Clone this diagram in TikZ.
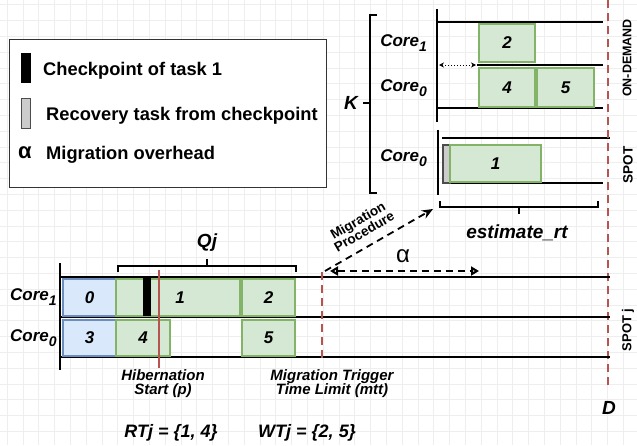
\documentclass[tikz,border=0pt]{standalone}
\usepackage{fontspec}
\setmainfont{Liberation Sans}
\usetikzlibrary{arrows.meta}
\definecolor{bluefill}{HTML}{DAE8FC}
\definecolor{blueline}{HTML}{6C8EBF}
\definecolor{greenfill}{HTML}{D5E8D4}
\definecolor{greenline}{HTML}{82B366}
\definecolor{redline}{HTML}{B85450}
\definecolor{gridc}{HTML}{EEEEEE}
\newcommand{\fs}[1]{\fontsize{#1}{#1}\selectfont}
\newcommand{\coresub}[1]{Core\raisebox{-0.32em}{\fs{14}#1}}
\begin{document}
\begin{tikzpicture}[x=1pt,y=-1pt,
  axisline/.style={line width=2pt,black},
  box/.style={rectangle,inner sep=0pt,outer sep=0pt,anchor=north west,line width=1.6pt,font=\fs{17}\bfseries\itshape},
  greentask/.style={box,draw=greenline,fill=greenfill},
  bluetask/.style={box,draw=blueline,fill=bluefill},
  corelbl/.style={font=\fs{17}\bfseries\itshape,inner sep=0pt},
  redsolid/.style={redline,line width=1.5pt},
  reddash/.style={redline,line width=1.8pt,dash pattern=on 8pt off 5pt},
  brk/.style={line width=1.3pt,black},
  sidelbl/.style={font=\fs{12.5}\bfseries,rotate=90,inner sep=0pt},
  annot/.style={font=\fs{15}\bfseries\itshape,align=center,inner sep=0pt}]
\useasboundingbox (0,0) rectangle (637,445);
% background grid
\foreach \i in {0,...,40} {\draw[gridc,line width=0.4pt] (7+15.8*\i,0) -- (7+15.8*\i,445);}
\foreach \i in {0,...,28} {\draw[gridc,line width=0.4pt] (0,4.6+15.8*\i) -- (637,4.6+15.8*\i);}

% legend
\node[draw=black!80,line width=1pt,fill=white,minimum width=317pt,minimum height=148pt,anchor=north west,inner sep=0pt] (legend) at (9,39) {};
\node[fill=black,minimum width=10pt,minimum height=30pt,inner sep=0pt,anchor=north west] (lgck) at (21,53) {};
\node[draw=black!70,fill=black!20,line width=0.8pt,minimum width=9pt,minimum height=30pt,inner sep=0pt,anchor=north west] (lgrec) at (21,98) {};
\node[font=\fs{18.3}\bfseries,anchor=west,inner sep=0pt] (lgt1) at (43,71) {Checkpoint of task 1};
\node[font=\fs{18.3}\bfseries,anchor=west,inner sep=0pt] (lgt2) at (46,116) {Recovery task from checkpoint};
\node[font=\fs{22}\bfseries,inner sep=0pt] (lgal) at (25,153) {α};
\node[font=\fs{18.3}\bfseries,anchor=west,inner sep=0pt] (lgt3) at (46,155) {Migration overhead};

% ---------- top right: on-demand ----------
\draw[axisline] (437,9) -- (437,122);
\draw[axisline] (437,22) -- (603,22);
\draw[axisline] (477,65) -- (603,65);
\draw[axisline] (437,108) -- (603,108);
\node[greentask,minimum width=56pt,minimum height=38pt] (o2) at (479,24) {2};
\node[greentask,minimum width=56pt,minimum height=39pt] (o4) at (479,68) {4};
\node[greentask,minimum width=57pt,minimum height=39pt] (o5) at (537,68) {5};
\coordinate (dl) at (439,65);
\coordinate (dr) at (476,65);
\draw[line width=1pt,dotted,{Stealth[length=5pt,width=5pt]}-{Stealth[length=5pt,width=5pt]}] (dl) -- (dr);

% spot (top right)
\draw[axisline] (438,130) -- (438,195);
\draw[axisline] (442,138) -- (610,138);
\draw[axisline] (442,183) -- (603,183);
\node[box,draw=black!70,fill=black!20,line width=1.2pt,minimum width=7pt,minimum height=38pt] (rec) at (443,145) {};
\node[greentask,minimum width=91pt,minimum height=37pt] (s1) at (450,145) {1};

\node[corelbl,anchor=east] (tc1) at (427,43) {\coresub{1}};
\node[corelbl,anchor=east] (tc0) at (427,88) {\coresub{0}};
\node[corelbl,anchor=east] (tc0b) at (427,158) {\coresub{0}};

% K bracket
\draw[brk] (377,15) -- (370,15) -- (370,193) -- (377,193);
\draw[brk] (363,103) -- (370,103);
\node[font=\fs{19}\bfseries\itshape,inner sep=0pt] (K) at (351,103) {K};

% estimate_rt bracket
\draw[brk] (440,201) -- (440,207) -- (598,207) -- (598,201);
\draw[brk] (519,207) -- (519,214);
\node[font=\fs{19}\bfseries\itshape,inner sep=0pt] (est) at (517,233) {estimate\_rt};

% side labels
\node[sidelbl] (ond) at (627,58) {ON-DEMAND};
\node[sidelbl,font=\fs{13.5}\bfseries] (spot) at (628,165) {SPOT};
\node[sidelbl,font=\fs{13}\bfseries] (spotj) at (628,330) {SPOT j};

% deadline
\coordinate (Dtop) at (608,0);
\coordinate (Dbot) at (608,387);
\draw[reddash] (Dtop) -- (Dbot);
\node[font=\fs{19}\bfseries\itshape,inner sep=0pt] (D) at (609,408) {D};

% ---------- bottom: spot j ----------
\draw[axisline] (60,263) -- (60,370);
\draw[axisline] (60,277) -- (610,277);
\draw[axisline] (60,317) -- (610,317);
\draw[axisline] (60,357) -- (610,357);
\node[bluetask,minimum width=53pt,minimum height=37pt] (b0) at (63,279) {0};
\node[bluetask,minimum width=53pt,minimum height=36pt] (b3) at (63,320) {3};
\node[greentask,minimum width=124pt,minimum height=37pt] (b1) at (116,279) {\hspace*{4pt}1};
\node[greentask,minimum width=53pt,minimum height=37pt] (b2) at (242,279) {2};
\node[greentask,minimum width=54pt,minimum height=36pt] (b4) at (116,320) {4};
\node[greentask,minimum width=53pt,minimum height=36pt] (b5) at (242,320) {5};
\node[fill=black,minimum width=8pt,minimum height=39pt,inner sep=0pt,anchor=north west] (ck) at (143,277) {};

\node[corelbl,anchor=west] (bc1) at (10,297) {\coresub{1}};
\node[corelbl,anchor=west] (bc0) at (10,338) {\coresub{0}};

% Qj bracket
\draw[brk] (118,272) -- (118,266) -- (296,266) -- (296,272);
\draw[brk] (207,266) -- (207,259);
\node[font=\fs{19}\bfseries\itshape,inner sep=0pt] (Qj) at (207,243) {Qj};

% hibernation / mtt lines
\coordinate (htop) at (159,270);
\coordinate (hbot) at (159,368);
\draw[redsolid] (htop) -- (hbot);
\coordinate (mtop) at (322,272);
\coordinate (mbot) at (322,362);
\draw[reddash] (mtop) -- (mbot);
\node[annot] (hib) at (163,384) {Hibernation\\[-1pt]Start (p)};
\node[annot] (mtt) at (332,384) {Migration Trigger\\[-1pt]Time Limit (mtt)};

% alpha arrow
\coordinate (al) at (330,271);
\coordinate (ar) at (479,271);
\draw[line width=2pt,dash pattern=on 7pt off 5pt,{Triangle[open,length=8pt,width=9pt]}-{Triangle[open,length=8pt,width=9pt]}] (al) -- (ar);
\node[font=\fs{24},inner sep=0pt] (alpha) at (403,256) {α};

% migration procedure arrow
\coordinate (ms) at (325,271);
\coordinate (me) at (433,209);
\draw[line width=1.8pt,dash pattern=on 7pt off 5pt,-{Stealth[length=11pt,width=9pt]}] (ms) -- (me);
\node[font=\fs{13.5}\bfseries,align=center,rotate=30,inner sep=0pt] (mp) at (361,226) {Migration\\[-1pt]Procedure};

% RT / WT
\node[font=\fs{18}\bfseries\itshape,inner sep=0pt] (rt) at (171,433) {RTj = \{1, 4\}};
\node[font=\fs{18}\bfseries\itshape,inner sep=0pt] (wt) at (307,433) {WTj = \{2, 5\}};
\end{tikzpicture}
\end{document}
